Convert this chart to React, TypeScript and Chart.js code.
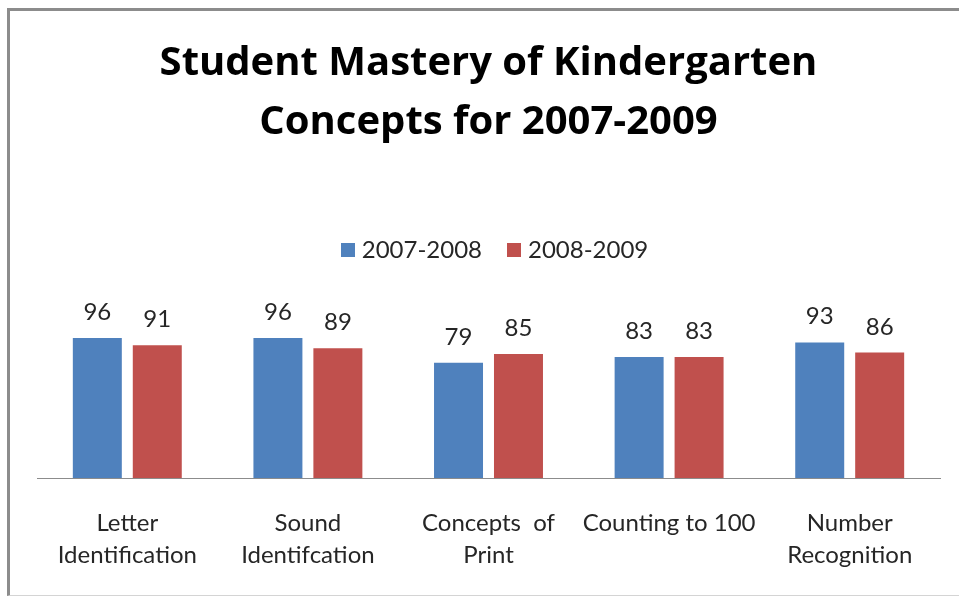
import React, { useEffect, useRef } from "react";
import { Chart, registerables } from "chart.js";

Chart.register(...registerables);

const categories: string[][] = [
  ["Letter", "Identification"],
  ["Sound", "Identifcation"],
  ["Concepts  of", "Print"],
  ["Counting to 100"],
  ["Number", "Recognition"],
];
const seriesNames = ["2007-2008", "2008-2009"];
const values2007: number[] = [96, 96, 79, 83, 93];
const values2008: number[] = [91, 89, 85, 83, 86];
const seriesColors = ["#4F81BD", "#C0504D"];

const FONT = "Lato, 'Open Sans', sans-serif";
const TITLE_FONT = "'Open Sans', Lato, sans-serif";
const TEXT_COLOR = "#262626";

const dataLabelPlugin = {
  id: "dataLabels",
  afterDatasetsDraw(chart: any) {
    const ctx = chart.ctx;
    ctx.save();
    ctx.font = `24px ${FONT}`;
    ctx.fillStyle = TEXT_COLOR;
    ctx.textAlign = "center";
    ctx.textBaseline = "alphabetic";
    chart.data.datasets.forEach((ds: any, i: number) => {
      const meta = chart.getDatasetMeta(i);
      meta.data.forEach((bar: any, j: number) => {
        ctx.fillText(String(ds.data[j]), bar.x, bar.y - 18);
      });
    });
    ctx.restore();
  },
};

// Legend drawn between title and plot area, from the datasets' labels and colours.
const legendPlugin = {
  id: "customLegend",
  afterDraw(chart: any) {
    const ctx = chart.ctx;
    const box = 14;
    const gap = 7;
    const itemGap = 25;
    const centerX = (chart.chartArea.left + chart.chartArea.right) / 2 + 6;
    const centerY = chart.chartArea.top - 53;
    ctx.save();
    ctx.font = `24px ${FONT}`;
    const items = chart.data.datasets.map((ds: any) => ({
      text: ds.label,
      color: ds.backgroundColor,
      w: box + gap + ctx.measureText(ds.label).width,
    }));
    const total = items.reduce((s: number, it: any) => s + it.w, 0) + itemGap * (items.length - 1);
    let x = centerX - total / 2;
    items.forEach((it: any) => {
      ctx.fillStyle = it.color;
      ctx.fillRect(Math.round(x), Math.round(centerY - box / 2), box, box);
      ctx.fillStyle = TEXT_COLOR;
      ctx.textAlign = "left";
      ctx.textBaseline = "middle";
      ctx.fillText(it.text, x + box + gap, centerY);
      x += it.w + itemGap;
    });
    ctx.restore();
  },
};

export default function App() {
  const ref = useRef<HTMLCanvasElement | null>(null);
  useEffect(() => {
    if (!ref.current) return;
    const chart = new Chart(ref.current, {
      type: "bar",
      data: {
        labels: categories,
        datasets: [
          { label: seriesNames[0], data: values2007, backgroundColor: seriesColors[0], borderWidth: 0 },
          { label: seriesNames[1], data: values2008, backgroundColor: seriesColors[1], borderWidth: 0 },
        ],
      },
      options: {
        responsive: false,
        animation: false,
        devicePixelRatio: 1,
        layout: { padding: { left: 37, right: 19, top: 0, bottom: 0 } },
        datasets: { bar: { categoryPercentage: 0.664, barPercentage: 0.817 } },
        plugins: {
          title: {
            display: true,
            text: ["Student Mastery of Kindergarten", "Concepts for 2007-2009"],
            color: "#000",
            font: { family: TITLE_FONT, size: 40, weight: "bold", lineHeight: 1.475 },
            padding: { top: 34, bottom: 151 },
          },
          legend: { display: false },
          tooltip: { enabled: false },
        },
        scales: {
          x: {
            grid: { display: false, drawTicks: false },
            border: { display: true, color: "#8c8c8c", width: 1 },
            ticks: {
              color: TEXT_COLOR,
              font: { family: FONT, size: 24, lineHeight: 1.333 },
              padding: 29,
              maxRotation: 0,
              autoSkip: false,
            },
          },
          y: { display: false, min: 0, max: 120 },
        },
      },
      plugins: [dataLabelPlugin, legendPlugin],
    });
    return () => chart.destroy();
  }, []);

  return (
    <div style={{ position: "absolute", left: 0, top: 0, width: 959, height: 597, overflow: "hidden", background: "#fff" }}>
      <canvas ref={ref} width={959} height={600} style={{ position: "absolute", left: 0, top: 0 }} />
      <div
        style={{
          position: "absolute",
          left: 7,
          top: 8,
          width: 980,
          height: 584,
          borderLeft: "3px solid #8c8c8c",
          borderTop: "3px solid #8c8c8c",
          borderBottom: "1px solid #d4d4d4",
          pointerEvents: "none",
        }}
      />
    </div>
  );
}
